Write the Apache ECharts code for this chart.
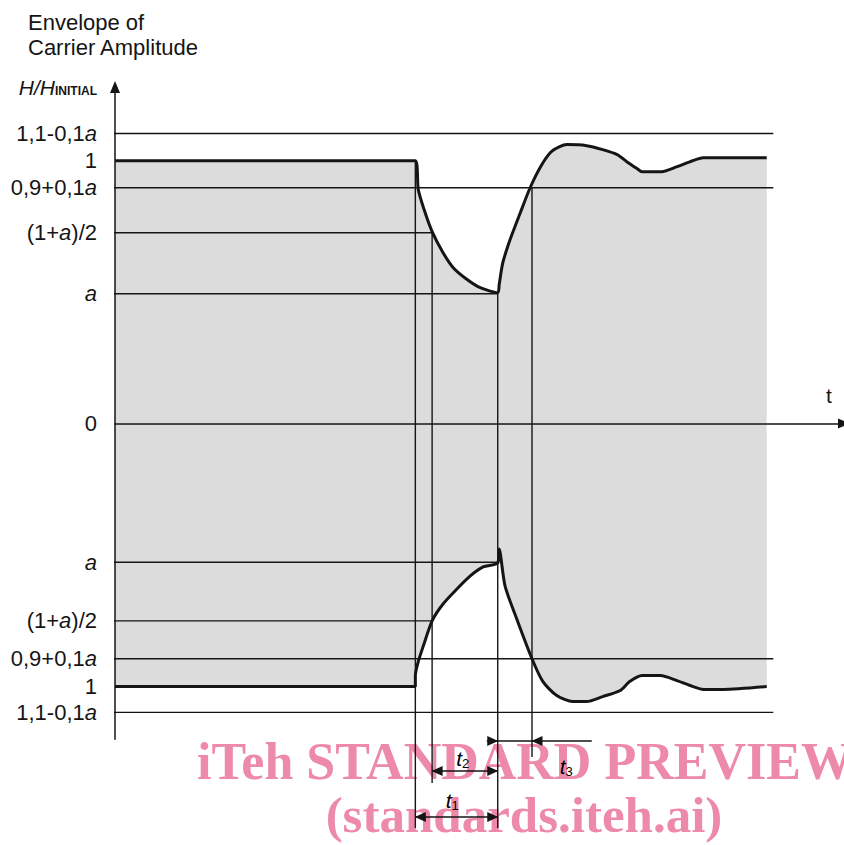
<!DOCTYPE html>
<html><head><meta charset="utf-8">
<script src="https://cdn.jsdelivr.net/npm/echarts@6/dist/echarts.min.js"></script>
<style>html,body{margin:0;padding:0;background:#fff}#c{width:844px;height:845px}</style>
</head><body><div id="c"></div>
<script>
// ---- data (time in arbitrary units 0..100, amplitude H/H_initial) ----
const upperT = [0, 41.2, 41.6, 42.4, 43.5, 45.0, 46.4, 48.3, 50.1, 52.5, 52.7, 53.2, 54.2, 55.6, 56.9, 58.3, 59.7, 61.0, 62.0, 64.7, 66.9, 68.9, 70.2, 71.6, 72.3, 75.0, 77.1, 78.9, 80.7, 89.4];
const upperH = [1.0, 1.0, 0.890, 0.814, 0.730, 0.650, 0.593, 0.548, 0.517, 0.498, 0.529, 0.612, 0.700, 0.802, 0.894, 0.973, 1.030, 1.053, 1.061, 1.057, 1.042, 1.023, 0.996, 0.970, 0.958, 0.958, 0.977, 0.996, 1.011, 1.011];
const lowerT = [0, 41.2, 41.2, 41.6, 42.3, 43.5, 45.0, 46.9, 48.7, 50.5, 52.5, 52.7, 53.5, 55.1, 57.2, 58.7, 60.6, 62.8, 64.7, 66.9, 69.3, 70.6, 72.3, 74.8, 77.1, 79.3, 80.7, 83.4, 89.4];
const lowerH = [-1.0, -1.0, -0.958, -0.905, -0.845, -0.750, -0.686, -0.629, -0.580, -0.545, -0.530, -0.477, -0.617, -0.742, -0.894, -0.981, -1.034, -1.057, -1.057, -1.038, -1.015, -0.981, -0.958, -0.958, -0.977, -1.0, -1.011, -1.011, -1.0];

// reference levels (horizontal lines)
const levelValues = [1.103, 0.897, 0.726, 0.494, -0.527, -0.750, -0.894, -1.098];
const levelStart = -1.6;
const levelEnds = [90.3, 90.3, 43.5, 52.5, 52.5, 43.5, 90.3, 90.3];

// tick labels on the amplitude axis
const tickValues = [1.103, 1.0, 0.897, 0.726, 0.494, 0, -0.527, -0.750, -0.894, -1.0, -1.098];
const tickLabels = ['1,1-0,1{i|a}', '1', '0,9+0,1{i|a}', '(1+{i|a})/2', '{i|a}', '0', '{i|a}', '(1+{i|a})/2', '0,9+0,1{i|a}', '1', '1,1-0,1{i|a}'];

// time markers (vertical lines)
const markerT = [41.2, 43.5, 52.5, 57.2];
const markerTop = [1.0, 0.726, 0.494, 0.897];
const markerBottom = [-1.538, -1.367, -1.538, -1.268];

// dimension arrows: [from, to, level, label]
const dimT1 = [41.2, 52.5, -1.496, '1'];
const dimT2 = [43.5, 52.5, -1.321, '2'];
const dimT3 = [51.0, 52.5, 57.2, 65.4, -1.207, '3'];

const SANS = "'Liberation Sans', Arial, sans-serif";
const ink = '#151515';

const zip = (a, b) => a.map((v, i) => [v, b[i]]);

const series = [];
series.push({
  type: 'line', data: zip(upperT, upperH), symbol: 'none', z: 2, smooth: 0.25,
  lineStyle: {color: ink, width: 3}, areaStyle: {color: '#dcdcdc', opacity: 1}
});
series.push({
  type: 'line', data: zip(lowerT, lowerH), symbol: 'none', z: 2, smooth: 0.25,
  lineStyle: {color: ink, width: 3}, areaStyle: {color: '#dcdcdc', opacity: 1}
});
levelValues.forEach((v, i) => {
  series.push({type: 'line', data: [[levelStart, v], [levelEnds[i], v]], symbol: 'none', clip: false, z: 3,
    lineStyle: {color: ink, width: 1.4}});
});
markerT.forEach((t, i) => {
  series.push({type: 'line', data: [[t, markerTop[i]], [t, markerBottom[i]]], symbol: 'none', clip: false, z: 3,
    lineStyle: {color: ink, width: 1.4}});
});

const subRich = {
  t: {fontFamily: SANS, fontStyle: 'italic', fontSize: 21, color: '#000', opacity: 1},
  s: {fontFamily: SANS, fontSize: 13, color: '#000', opacity: 1, padding: [10, 0, 0, 0]}
};
const arrowPt = (x, y, dir) => dir === 'none'
  ? {value: [x, y], symbol: 'none'}
  : {value: [x, y], symbol: 'triangle', symbolSize: [10, 11], symbolRotate: dir === 'left' ? 90 : -90,
     symbolOffset: dir === 'left' ? [5, 0] : [-5, 0]};
const dimLine = (pts) => ({
  type: 'line', data: pts, clip: false, z: 4, showAllSymbol: true, animation: false,
  lineStyle: {color: ink, width: 1.4}, itemStyle: {color: ink}
});
series.push(dimLine([arrowPt(dimT1[0], dimT1[2], 'left'), arrowPt(dimT1[1], dimT1[2], 'right')]));
series.push(dimLine([arrowPt(dimT2[0], dimT2[2], 'left'), arrowPt(dimT2[1], dimT2[2], 'right')]));
series.push(dimLine([arrowPt(dimT3[0], dimT3[4], 'none'), arrowPt(dimT3[1], dimT3[4], 'right'),
                     arrowPt(dimT3[2], dimT3[4], 'left'), arrowPt(dimT3[3], dimT3[4], 'none')]));
// dimension labels
const lbl = (x, y, sub, dy) => ({value: [x, y], label: {show: true, position: 'inside', offset: [0, dy],
  color: '#000', textBorderWidth: 0, opacity: 1, formatter: '{t|t}{s|' + sub + '}', rich: subRich}});
series.push({
  type: 'scatter', symbol: 'circle', symbolSize: 0, itemStyle: {color: ink, opacity: 1}, clip: false, z: 20,
  silent: true,
  data: [
    lbl((dimT1[0] + dimT1[1]) / 2 - 0.6, dimT1[2], dimT1[3], -17),
    lbl((dimT2[0] + dimT2[1]) / 2 - 0.3, dimT2[2], dimT2[3], -13),
    lbl((dimT3[2] + dimT3[3]) / 2 + 0.6, dimT3[4], dimT3[5], 25)
  ]
});

const chart = echarts.init(document.getElementById('c'), null, {renderer: 'svg'});
chart.setOption({
  animation: false,
  backgroundColor: '#fff',
  title: {
    text: 'Envelope of\nCarrier Amplitude', left: 23, top: 5,
    textStyle: {fontFamily: SANS, fontWeight: 'normal', fontSize: 22, lineHeight: 25, color: ink}
  },
  grid: {left: 115, right: 0, top: 87, height: 652.2},
  xAxis: {
    type: 'value', min: 0, max: 100, z: 6,
    axisLine: {show: true, onZero: true, symbol: ['none', 'triangle'], symbolSize: [10, 12], lineStyle: {color: ink, width: 1.5}},
    axisTick: {show: false}, axisLabel: {show: false}, splitLine: {show: false}
  },
  yAxis: {
    type: 'value', min: -1.2, max: 1.28, z: 6,
    axisLine: {show: true, onZero: false, symbol: ['none', 'triangle'], symbolSize: [10, 12], lineStyle: {color: ink, width: 1.5}},
    axisTick: {show: false}, splitLine: {show: false},
    axisLabel: {
      show: true, customValues: tickValues, margin: 18, color: ink, fontFamily: SANS, fontSize: 22,
      formatter: v => { const i = tickValues.indexOf(v); return i >= 0 ? tickLabels[i] : ''; },
      rich: {i: {fontFamily: SANS, fontStyle: 'italic', fontSize: 22, color: ink}}
    }
  },
  graphic: [
    {type: 'text', z: 10, style: {x: 97, y: 87, align: 'right', verticalAlign: 'middle', text: '{h|H/H}{s|INITIAL}',
      rich: {h: {fontFamily: SANS, fontStyle: 'italic', fontSize: 21, fill: ink}, s: {fontFamily: SANS, fontWeight: 'bold', fontSize: 12, fill: ink, padding: [8, 0, 0, 0]}}}},
    {type: 'text', z: 10, style: {x: 829, y: 395, align: 'center', verticalAlign: 'middle', text: 't', font: '21px ' + SANS, fill: ink}},
    {type: 'text', z: -10, style: {x: 197, y: 761, align: 'left', verticalAlign: 'middle', text: 'iTeh STANDARD PREVIEW', font: "bold 52px 'Liberation Serif', 'Times New Roman', serif", fill: '#ee8aa9'}},
    {type: 'text', z: -10, style: {x: 524, y: 815, align: 'center', verticalAlign: 'middle', text: '(standards.iteh.ai)', font: "bold 51px 'Liberation Serif', 'Times New Roman', serif", fill: '#ee8aa9'}}
  ],
  series: series
});
</script>
</body></html>
